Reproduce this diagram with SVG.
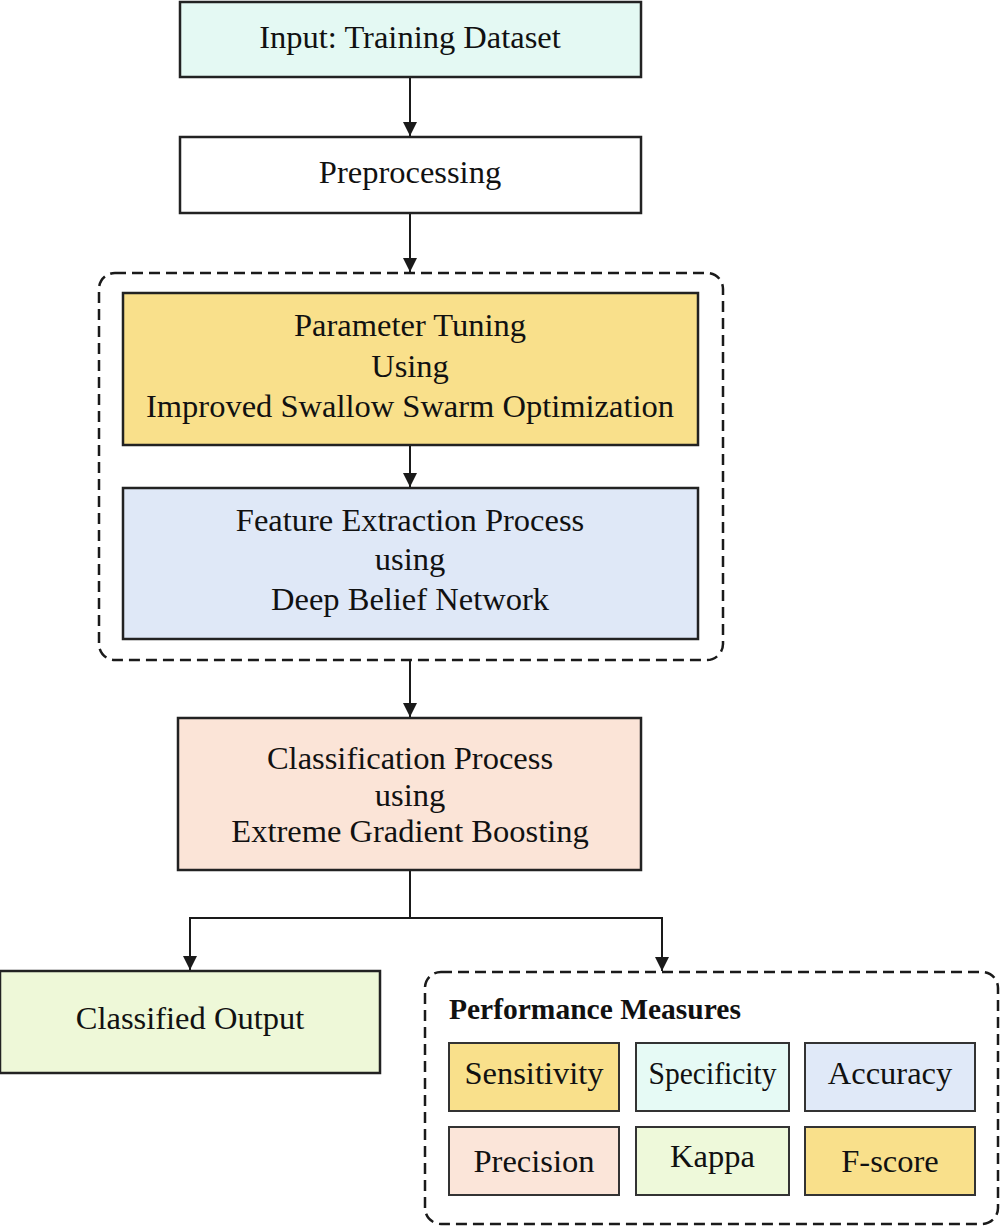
<svg xmlns="http://www.w3.org/2000/svg" width="1000" height="1226" viewBox="0 0 1000 1226">
<defs>
<marker id="arr" viewBox="0 0 14 14" refX="14" refY="7" markerWidth="14" markerHeight="14" markerUnits="userSpaceOnUse" orient="auto">
<path d="M0,0 L14,7 L0,14 Z" fill="#1a1a1a"/>
</marker>
</defs>
<style>
.box{stroke:#222;stroke-width:2.5}
.sbox{stroke:#333;stroke-width:2}
.dash{fill:none;stroke:#1a1a1a;stroke-width:2.5;stroke-dasharray:11 6}
.t{font-family:"Liberation Serif","Times New Roman",serif;font-size:32.5px;fill:#111;text-anchor:middle}
.b{font-family:"Liberation Serif","Times New Roman",serif;font-size:29.5px;font-weight:bold;fill:#111}
.c{fill:none;stroke:#1a1a1a;stroke-width:2}
</style>
<rect width="1000" height="1226" fill="#ffffff"/>
<g id="connectors">
<line class="c" x1="410" y1="77" x2="410" y2="136" marker-end="url(#arr)"/>
<line class="c" x1="410" y1="213" x2="410" y2="272" marker-end="url(#arr)"/>
<line class="c" x1="410" y1="445" x2="410" y2="487" marker-end="url(#arr)"/>
<line class="c" x1="410" y1="660" x2="410" y2="717" marker-end="url(#arr)"/>
<polyline class="c" points="410,870 410,918 190,918 190,970" marker-end="url(#arr)"/>
<polyline class="c" points="410,918 662,918 662,971" marker-end="url(#arr)"/>
</g>
<g id="input">
<rect class="box" x="180" y="2" width="461" height="75" fill="#e4f9f3"/>
<text class="t" x="410" y="48">Input: Training Dataset</text>
</g>
<g id="preprocessing">
<rect class="box" x="180" y="137" width="461" height="76" fill="#ffffff"/>
<text class="t" x="410" y="183">Preprocessing</text>
</g>
<g id="optimization-group">
<rect class="dash" x="99" y="273" width="624" height="387" rx="16" ry="16"/>
</g>
<g id="parameter-tuning">
<rect class="box" x="123" y="293" width="575" height="152" fill="#f9e08b"/>
<text class="t" x="410" y="336">Parameter Tuning</text>
<text class="t" x="410" y="377">Using</text>
<text class="t" x="410" y="417">Improved Swallow Swarm Optimization</text>
</g>
<g id="feature-extraction">
<rect class="box" x="123" y="488" width="575" height="151" fill="#dfe8f7"/>
<text class="t" x="410" y="531">Feature Extraction Process</text>
<text class="t" x="410" y="570">using</text>
<text class="t" x="410" y="610">Deep Belief Network</text>
</g>
<g id="classification">
<rect class="box" x="178" y="718" width="463" height="152" fill="#fbe4d7"/>
<text class="t" x="410" y="769">Classification Process</text>
<text class="t" x="410" y="806">using</text>
<text class="t" x="410" y="842">Extreme Gradient Boosting</text>
</g>
<g id="classified-output">
<rect class="box" x="0" y="971" width="380" height="102" fill="#eef8d8"/>
<text class="t" x="190" y="1029">Classified Output</text>
</g>
<g id="performance-measures">
<rect class="dash" x="425" y="972" width="573" height="252" rx="16" ry="16"/>
<text class="b" x="449" y="1019">Performance Measures</text>
</g>
<g id="sensitivity">
<rect class="sbox" x="449" y="1043" width="170" height="68" fill="#f9e08b"/>
<text class="t" x="534" y="1084">Sensitivity</text>
</g>
<g id="specificity">
<rect class="sbox" x="636" y="1043" width="153" height="68" fill="#e6faf5"/>
<text class="t" x="712.5" y="1084" textLength="128" lengthAdjust="spacingAndGlyphs">Specificity</text>
</g>
<g id="accuracy">
<rect class="sbox" x="805" y="1043" width="170" height="68" fill="#e0e9f8"/>
<text class="t" x="890" y="1084">Accuracy</text>
</g>
<g id="precision">
<rect class="sbox" x="449" y="1127" width="170" height="68" fill="#fbe5d9"/>
<text class="t" x="534" y="1172">Precision</text>
</g>
<g id="kappa">
<rect class="sbox" x="636" y="1127" width="153" height="68" fill="#eef9da"/>
<text class="t" x="712.5" y="1167">Kappa</text>
</g>
<g id="f-score">
<rect class="sbox" x="805" y="1127" width="170" height="68" fill="#f9e08b"/>
<text class="t" x="890" y="1172">F-score</text>
</g>
</svg>
